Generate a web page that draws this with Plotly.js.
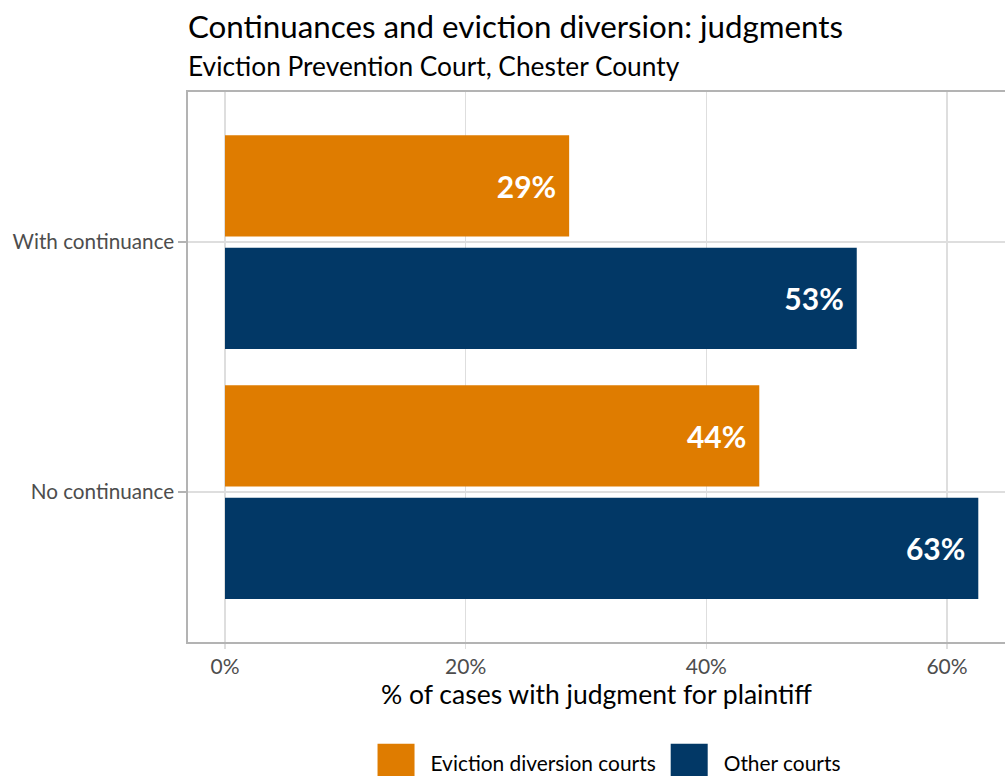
<!DOCTYPE html>
<html>
<head>
<meta charset="utf-8">
<script src="https://cdn.plot.ly/plotly-3.0.1.min.js"></script>
<style>body{margin:0;background:#fff;} #chart{width:1005px;height:776px;}</style>
</head>
<body>
<div id="chart"></div>
<script>
const categories = ["No continuance", "With continuance"];
const diversionValues = [0.444, 0.286];
const otherValues = [0.626, 0.525];
const seriesNames = ["Eviction diversion courts", "Other courts"];
const xTickVals = [0, 0.2, 0.4, 0.6];
const xTickText = ["0%", "20%", "40%", "60%"];
const titleText = "Continuances and eviction diversion: judgments";
const subtitleText = "Eviction Prevention Court, Chester County";
const xTitleText = "% of cases with judgment for plaintiff";

const ORANGE = "#DF7C00";
const NAVY = "#023866";
const FONT = "Lato, 'Open Sans', sans-serif";

const pct = v => Math.round(v * 100) + "%\u2004";

const traces = [
  {
    type: "bar", orientation: "h", name: seriesNames[1],
    y: categories, x: otherValues,
    marker: {color: NAVY},
    text: otherValues.map(pct), textposition: "inside", insidetextanchor: "end",
    textfont: {family: FONT, size: 30, color: "#ffffff", weight: "bold"},
    legendrank: 2
  },
  {
    type: "bar", orientation: "h", name: seriesNames[0],
    y: categories, x: diversionValues,
    marker: {color: ORANGE},
    text: diversionValues.map(pct), textposition: "inside", insidetextanchor: "end",
    textfont: {family: FONT, size: 30, color: "#ffffff", weight: "bold"},
    legendrank: 1
  }
];

const layout = {
  width: 1005, height: 776,
  margin: {l: 188, r: 0, t: 92, b: 134},
  paper_bgcolor: "#ffffff", plot_bgcolor: "#ffffff",
  font: {family: FONT, color: "#000"},
  barmode: "group", bargap: 0.1, bargroupgap: 0.1,
  title: {
    text: titleText,
    font: {family: FONT, size: 31.3, color: "#000"},
    x: 0, xref: "paper", xanchor: "left",
    y: 1 - 16/776, yref: "container", yanchor: "top"
  },
  annotations: [{
    text: subtitleText, showarrow: false,
    xref: "paper", x: 0, xanchor: "left", xshift: -2,
    yref: "paper", y: (642 - 66) / 550, yanchor: "middle",
    font: {family: FONT, size: 26.3, color: "#000"}
  }],
  xaxis: {
    range: [-0.03075, 0.6482],
    tickvals: xTickVals, ticktext: xTickText,
    showgrid: true, gridcolor: "#dedede", gridwidth: 1.3,
    zeroline: false,
    showline: true, linecolor: "#b3b3b3", linewidth: 1.6, mirror: true,
    ticks: "outside", ticklen: 5, tickcolor: "#dedede", tickwidth: 1.3,
    tickfont: {family: FONT, size: 21, color: "#4d4d4d"},
    title: {text: xTitleText, font: {family: FONT, size: 26.5, color: "#000"}, standoff: 0},
    fixedrange: true
  },
  yaxis: {
    type: "category", range: [-0.6, 1.6],
    showgrid: true, gridcolor: "#dedede", gridwidth: 1.3,
    zeroline: false,
    showline: true, linecolor: "#b3b3b3", linewidth: 1.6,
    ticks: "outside", ticklen: 8, tickcolor: "#b3b3b3", tickwidth: 1.3,
    tickfont: {family: FONT, size: 20.7, color: "#4d4d4d"},
    fixedrange: true
  },
  showlegend: true,
  legend: {
    orientation: "h", x: 0.3657, xanchor: "left", xref: "container",
    y: 13/776, yanchor: "middle", yref: "container",
    font: {family: FONT, size: 20.9, color: "#000"},
    itemwidth: 53, traceorder: "normal"
  },
  hovermode: false
};

const gd = document.getElementById("chart");
Plotly.newPlot(gd, traces, layout, {displayModeBar: false, staticPlot: true}).then(() => {
  // enlarge legend swatches to ggplot-like keys placed left of each label
  gd.querySelectorAll(".legend .traces").forEach(tr => {
    const path = tr.querySelector(".legendpoints path");
    const text = tr.querySelector(".legendtext");
    if (!path || !text) return;
    const tb = text.getBoundingClientRect();
    const svg = path.ownerSVGElement;
    const m = path.getScreenCTM().inverse();
    const size = 37;
    const right = tb.left - 16, left = right - size;
    const cy = tb.top + tb.height / 2;
    const top = cy - size / 2, bottom = cy + size / 2;
    const p1 = svg.createSVGPoint(); p1.x = left; p1.y = top;
    const p2 = svg.createSVGPoint(); p2.x = right; p2.y = bottom;
    const a = p1.matrixTransform(m), b = p2.matrixTransform(m);
    path.setAttribute("d", `M${a.x},${a.y}H${b.x}V${b.y}H${a.x}Z`);
    path.style.strokeWidth = "0px";
  });
});
</script>
</body>
</html>
